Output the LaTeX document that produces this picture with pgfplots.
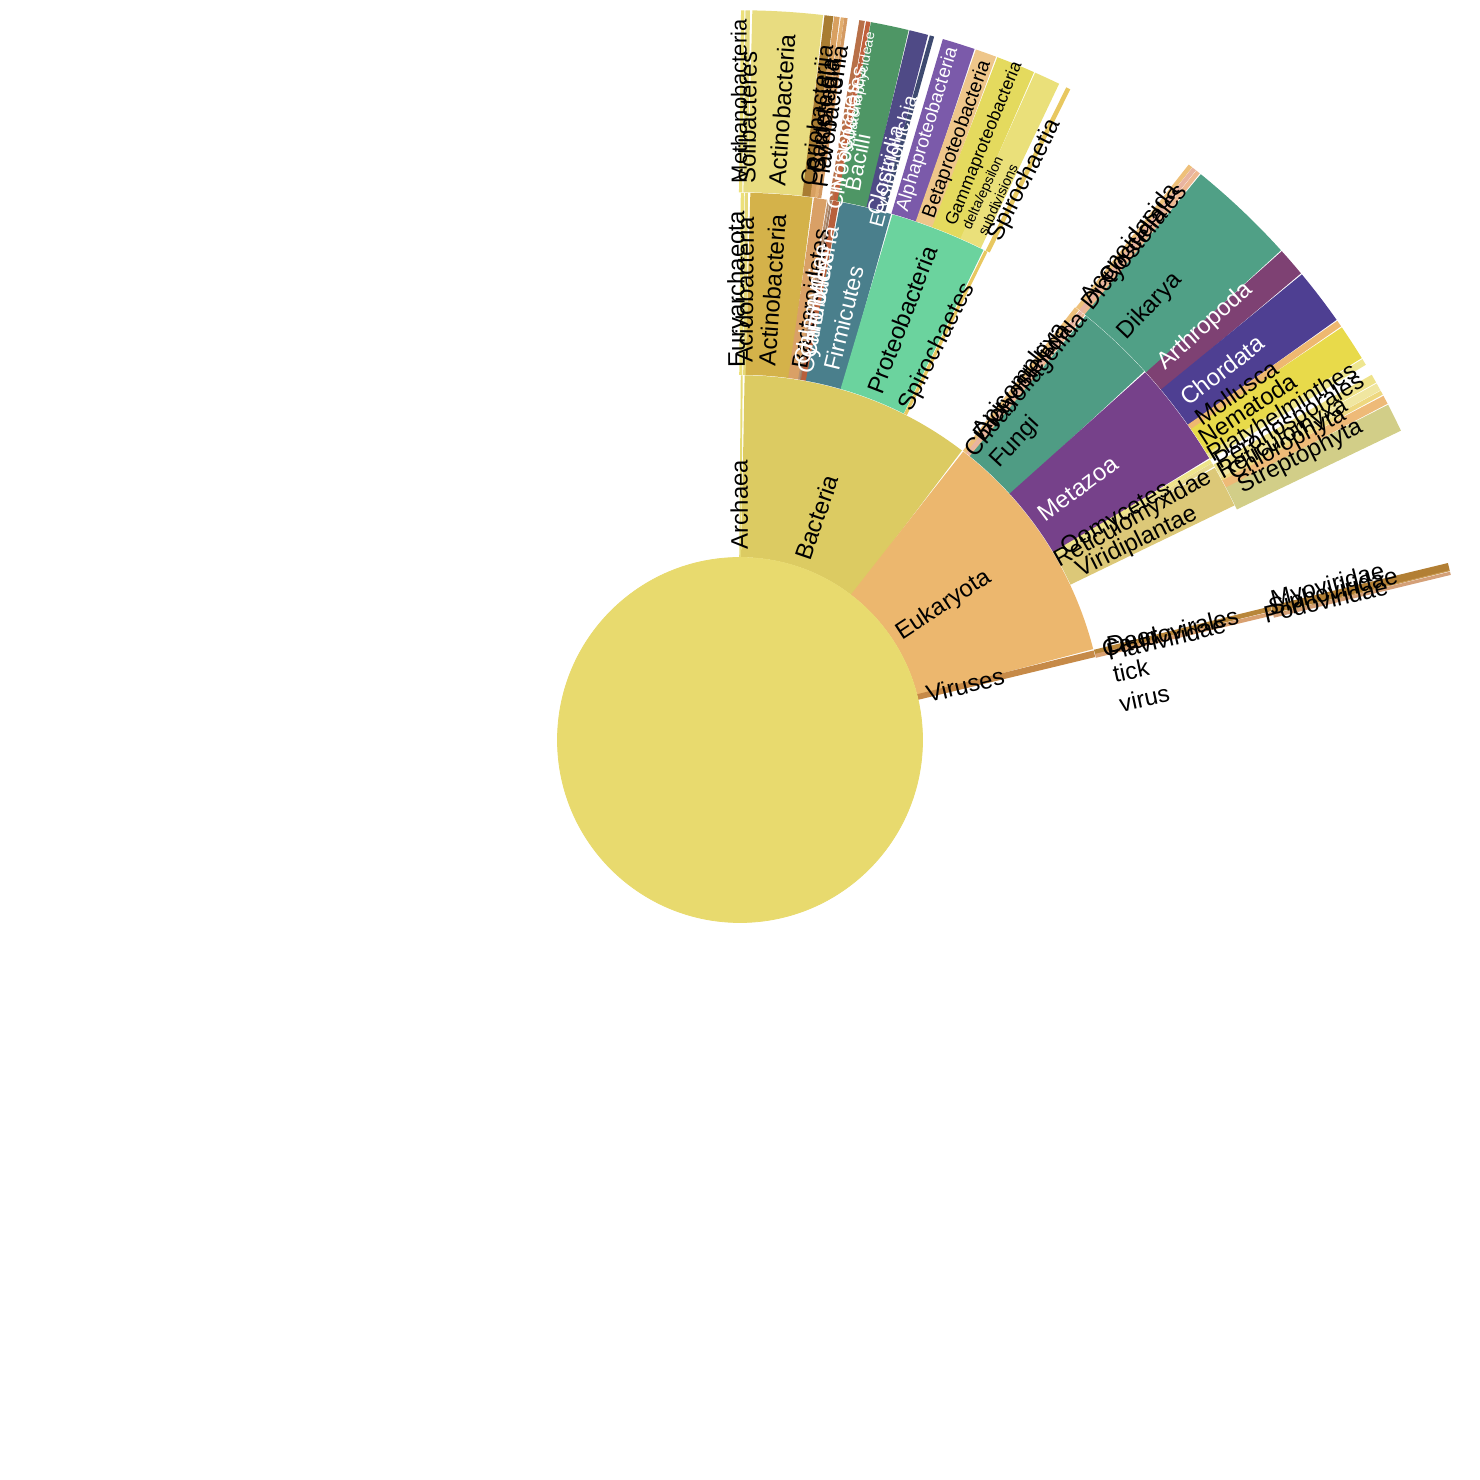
\documentclass[border=0pt]{standalone}
\usepackage{fontspec}
\setmainfont{Liberation Sans}
\usepackage{pgfplots}
\pgfplotsset{compat=1.18}
% colours
\definecolor{centerc}{HTML}{E8DA6E}
\definecolor{archaea}{HTML}{E6DC78}
\definecolor{bacteria}{HTML}{DCCB62}
\definecolor{eukaryota}{HTML}{ECB76E}
\definecolor{viruses}{HTML}{C68A48}
\definecolor{eury}{HTML}{ECE07A}
\definecolor{acido}{HTML}{E6D97A}
\definecolor{actinoB}{HTML}{D4B24A}
\definecolor{bacteroidB}{HTML}{D9A066}
\definecolor{chlam}{HTML}{B89070}
\definecolor{chloro}{HTML}{A07E64}
\definecolor{cyanoB}{HTML}{B8603C}
\definecolor{firm}{HTML}{4A7F8C}
\definecolor{proteo}{HTML}{6BD39E}
\definecolor{spiro}{HTML}{E8C860}
\definecolor{methano}{HTML}{ECE07A}
\definecolor{soli}{HTML}{E6DC82}
\definecolor{actinoC}{HTML}{E8DC80}
\definecolor{corio}{HTML}{A87C32}
\definecolor{bactA}{HTML}{D8A060}
\definecolor{bactB}{HTML}{E2AE70}
\definecolor{bactC}{HTML}{D49A62}
\definecolor{cyanoCa}{HTML}{B87048}
\definecolor{cyanoCb}{HTML}{C0603C}
\definecolor{bacilli}{HTML}{4E9665}
\definecolor{clost}{HTML}{4F4A86}
\definecolor{neg}{HTML}{3E4A70}
\definecolor{alpha}{HTML}{7B5AAA}
\definecolor{beta}{HTML}{EEC68A}
\definecolor{gamma}{HTML}{E4DA5E}
\definecolor{delta}{HTML}{EAE07A}
\definecolor{apic}{HTML}{EEC07A}
\definecolor{dicty}{HTML}{E8B4A0}
\definecolor{choano}{HTML}{EEB890}
\definecolor{fungi}{HTML}{4F9C84}
\definecolor{metazoa}{HTML}{76418A}
\definecolor{oomy}{HTML}{EEE48A}
\definecolor{retic}{HTML}{E8DA90}
\definecolor{viridi}{HTML}{DCC878}
\definecolor{dikarya}{HTML}{50A086}
\definecolor{arthro}{HTML}{7E4173}
\definecolor{chord}{HTML}{4E3F92}
\definecolor{mollusca}{HTML}{EEB870}
\definecolor{nemat}{HTML}{E8DA4A}
\definecolor{platy}{HTML}{EEE690}
\definecolor{perono}{HTML}{EEE28A}
\definecolor{reticul}{HTML}{F0E6A0}
\definecolor{thinC}{HTML}{EED880}
\definecolor{chloroph}{HTML}{EEBA78}
\definecolor{strepto}{HTML}{D2CE88}
\definecolor{caudo}{HTML}{B8863A}
\definecolor{flavi}{HTML}{D8A070}
\definecolor{myo}{HTML}{B27F34}
\definecolor{podo}{HTML}{C89850}
\definecolor{sipho}{HTML}{D4A078}
% wedge: start angle, end angle, ring, colour
\newcommand\W[4]{%
  \pgfmathtruncatemacro\ns{max(2,ceil((#2-#1)/1.0)+1)}%
  \addplot[data cs=polar, domain=#1:#2, samples=\ns, line width=91pt, draw=#4, line cap=butt, line join=round, mark=none] (x,{#3+0.5});}
% label: angle, radius, colour, size, text
\newcommand\lab[5]{\node[rotate=#1, text=#3, font=\fontsize{#4}{#4}\selectfont, inner sep=0pt, align=center] at (axis cs:{#2*cos(#1)},{#2*sin(#1)}) {#5};}
\begin{document}
\begin{tikzpicture}
\begin{axis}[scale only axis, width=740pt, height=740pt,
  axis line style={draw=none}, ticks=none,
  xmin=-4.055, xmax=4.055, ymin=-4.055, ymax=4.055, clip=false]
\addplot[draw=none, mark=none, forget plot] coordinates {(-4.055,-4.055) (4.055,4.055)};
\addplot[only marks, mark=*, color=centerc, mark size=91.25pt] coordinates {(0,0)};
% ring 1
\W{89.6}{90}{1}{archaea}
\W{52.4}{89.4}{1}{bacteria}
\W{14.3}{52.4}{1}{eukaryota}
\W{13.0}{14.3}{1}{viruses}
% ring 2
\W{89.6}{90}{2}{eury}
\W{89.1}{89.5}{2}{acido}
\W{82.3}{89.0}{2}{actinoB}
\W{80.8}{82.3}{2}{bacteroidB}
\W{80.55}{80.8}{2}{chlam}
\W{80.3}{80.55}{2}{chloro}
\W{79.5}{80.3}{2}{cyanoB}
\W{73.9}{79.5}{2}{firm}
\W{63.5}{73.9}{2}{proteo}
\W{63.0}{63.4}{2}{spiro}
\W{51.7}{52.3}{2}{apic}
\W{51.2}{51.7}{2}{dicty}
\W{50.9}{51.2}{2}{choano}
\W{42.3}{50.9}{2}{fungi}
\W{30.9}{42.3}{2}{metazoa}
\W{30.4}{30.9}{2}{oomy}
\W{29.9}{30.4}{2}{retic}
\W{25.3}{29.9}{2}{viridi}
\W{13.6}{14.2}{2}{caudo}
\W{13.1}{13.6}{2}{flavi}
% ring 3
\W{89.7}{90}{3}{methano}
\W{89.2}{89.6}{3}{soli}
\W{83.4}{89.1}{3}{actinoC}
\W{82.6}{83.4}{3}{corio}
\W{82.1}{82.6}{3}{bactA}
\W{81.8}{82.1}{3}{bactB}
\W{81.5}{81.8}{3}{bactC}
\W{80.1}{80.6}{3}{cyanoCa}
\W{79.7}{80.1}{3}{cyanoCb}
\W{76.6}{79.7}{3}{bacilli}
\W{75.0}{76.6}{3}{clost}
\W{74.6}{75.0}{3}{neg}
\W{71.2}{73.9}{3}{alpha}
\W{69.4}{71.2}{3}{beta}
\W{66.2}{69.4}{3}{gamma}
\W{64.0}{66.2}{3}{delta}
\W{63.0}{63.4}{3}{spiro}
\W{51.7}{52.1}{3}{apic}
\W{51.3}{51.7}{3}{dicty}
\W{50.9}{51.3}{3}{choano}
\W{42.1}{50.9}{3}{dikarya}
\W{39.7}{42.1}{3}{arthro}
\W{35.1}{39.7}{3}{chord}
\W{34.5}{35.1}{3}{mollusca}
\W{31.5}{34.5}{3}{nemat}
\W{30.9}{31.5}{3}{platy}
\W{29.3}{30.1}{3}{perono}
\W{28.6}{29.3}{3}{reticul}
\W{28.2}{28.6}{3}{thinC}
\W{27.4}{28.2}{3}{chloroph}
\W{25.0}{27.4}{3}{strepto}
\W{13.4}{14.1}{3}{myo}
\W{13.3}{13.4}{3}{podo}
\W{13.0}{13.3}{3}{sipho}
% labels ring 1
\lab{90.2}{1.29}{black}{12}{Archaea}
\lab{71.0}{1.29}{black}{12}{Bacteria}
\lab{33.4}{1.34}{black}{12}{Eukaryota}
\lab{13.7}{1.27}{black}{12}{Viruses}
% labels ring 2
\lab{90.2}{2.47}{black}{12}{Euryarchaeota}
\lab{89.4}{2.47}{black}{12}{Acidobacteria}
\lab{85.9}{2.47}{black}{12}{Actinobacteria}
\lab{81.0}{2.45}{black}{11.5}{Bacteroidetes}
\lab{80.4}{2.42}{white}{11.5}{Chlamydiae}
\lab{80.0}{2.42}{white}{11.5}{Chloroflexi}
\lab{79.7}{2.45}{white}{11.5}{Cyanobacteria}
\lab{76.2}{2.38}{white}{11.5}{Firmicutes}
\lab{68.9}{2.47}{black}{12}{Proteobacteria}
\lab{63.3}{2.41}{black}{12}{Spirochaetes}
\lab{52.0}{2.5}{black}{12}{Apicomplexa}
\lab{51.5}{2.5}{black}{12}{Dictyosteliida}
\lab{51.0}{2.5}{black}{12}{Choanoflagellida}
\lab{47.2}{2.22}{black}{12}{Fungi}
\lab{36.7}{2.31}{white}{12}{Metazoa}
\lab{30.4}{2.39}{black}{12}{Oomycetes}
\lab{29.3}{2.47}{black}{12}{Reticulomyxidae}
\lab{26.5}{2.43}{black}{12}{Viridiplantae}
\lab{14.1}{2.43}{black}{12}{Caudovirales}
\lab{13.4}{2.40}{black}{12}{Flaviviridae}
\node[rotate=12, anchor=north west, inner sep=0pt, align=left, font=\fontsize{12}{15}\selectfont] at (axis cs:2.0,0.565) {Deer\\tick\\virus};
% labels ring 3
\lab{90.1}{3.50}{black}{11}{Methanobacteria}
\lab{89.3}{3.41}{black}{12}{Solibacteres}
\lab{86.2}{3.46}{black}{12}{Actinobacteria}
\lab{83.0}{3.45}{black}{11.5}{Coriobacteriia}
\lab{82.5}{3.45}{black}{11.5}{Bacteroidia}
\lab{82.1}{3.45}{black}{11.5}{Cytophagia}
\lab{81.8}{3.45}{black}{11.5}{Flavobacteriia}
\lab{80.3}{3.35}{white}{11}{Nostocales}
\lab{80.0}{3.35}{white}{11}{Chroococcales}
\lab{79.5}{3.58}{white}{7}{Oscillatoriophycideae}
\lab{78.5}{3.23}{white}{11}{Bacilli}
\lab{75.7}{3.22}{white}{11}{Clostridia}
\lab{75.0}{3.28}{white}{10}{Erysipelotrichia}
\lab{72.9}{3.50}{white}{9.5}{Alphaproteobacteria}
\lab{70.1}{3.50}{black}{9.8}{Betaproteobacteria}
\lab{67.7}{3.53}{black}{8.8}{Gammaproteobacteria}
\node[rotate=65.3, inner sep=0pt, align=center, font=\fontsize{7}{8.5}\selectfont] at (axis cs:{3.28*cos(65.3)},{3.28*sin(65.3)}) {delta/epsilon\\subdivisions};
\lab{63.0}{3.44}{black}{12}{Spirochaetia}
\lab{52.0}{3.46}{black}{12}{Aconoidasida}
\lab{51.6}{3.46}{black}{12}{Coccidia}
\lab{51.2}{3.46}{black}{12}{Dictyosteliales}
\lab{46.6}{3.27}{black}{12}{Dikarya}
\lab{41.6}{3.41}{white}{12}{Arthropoda}
\lab{37.5}{3.33}{white}{12}{Chordata}
\lab{35.0}{3.32}{black}{12}{Mollusca}
\lab{33.1}{3.32}{black}{12}{Nematoda}
\lab{31.0}{3.47}{black}{12}{Platyhelminthes}
\lab{30.0}{3.48}{black}{12}{Peronosporales}
\lab{29.0}{3.40}{black}{12}{Reticulomyxa}
\lab{28.4}{3.41}{black}{12}{Chlorophyta}
\lab{26.8}{3.44}{black}{12}{Streptophyta}
\lab{14.6}{3.33}{black}{12}{Myoviridae}
\lab{13.4}{3.30}{black}{12}{Podoviridae}
\lab{13.9}{3.35}{black}{12}{Siphoviridae}
\end{axis}
\end{tikzpicture}
\end{document}
